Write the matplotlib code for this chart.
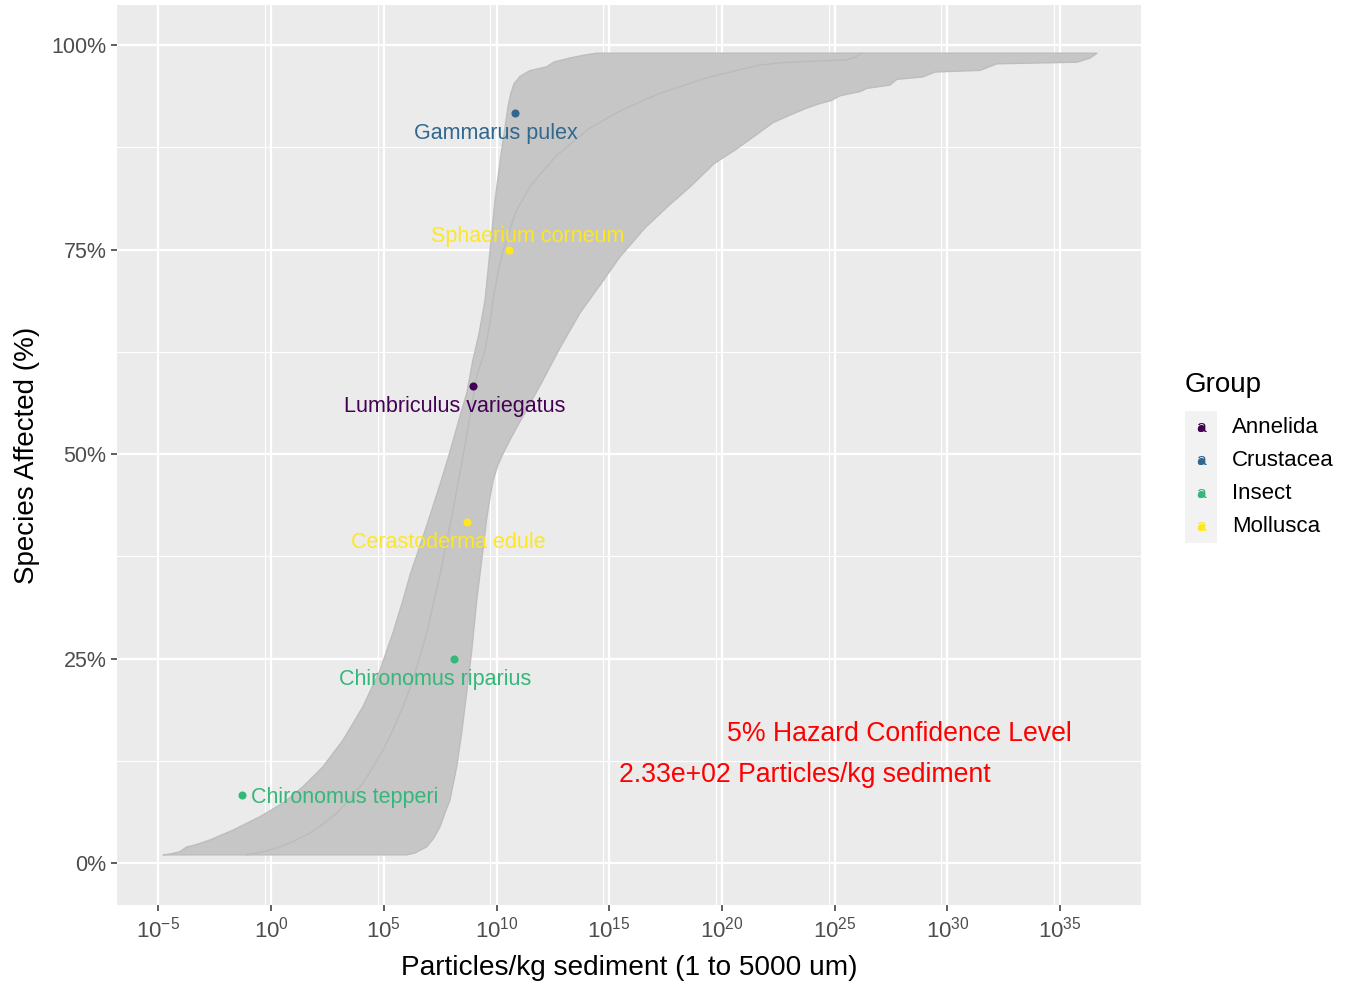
import matplotlib
matplotlib.use("Agg")
import matplotlib.pyplot as plt
import numpy as np

plt.rcParams['font.family'] = ['Liberation Sans', 'DejaVu Sans']
plt.rcParams['mathtext.default'] = 'regular'
plt.rcParams['axes.unicode_minus'] = False

# ---------------- data ----------------
species = ["Chironomus tepperi", "Chironomus riparius", "Cerastoderma edule",
           "Lumbriculus variegatus", "Sphaerium corneum", "Gammarus pulex"]
groups = ["Insect", "Insect", "Mollusca", "Annelida", "Mollusca", "Crustacea"]
conc = [5.0e-2, 1.26e8, 4.9e8, 8.7e8, 3.5e10, 6.8e10]
frac_affected = [0.083, 0.25, 0.417, 0.583, 0.75, 0.917]

group_names = ["Annelida", "Crustacea", "Insect", "Mollusca"]
group_colors = ["#440154", "#31688E", "#35B779", "#FDE725"]

# confidence band, lower boundary (log10 concentration, fraction affected)
lower_log10 = [-4.79, 6.01, 6.38, 6.90, 7.22, 7.49, 7.71, 7.93, 8.23, 8.45, 8.67, 8.90,
               9.12, 9.34, 9.56, 9.71, 9.85, 10.06, 10.30, 10.64, 11.04, 11.93, 12.81,
               13.70, 14.59, 15.47, 16.58, 17.65, 18.58, 19.65, 20.58, 21.46, 22.26,
               23.02, 23.77, 24.35, 24.84, 25.24, 26.12, 26.43, 27.45, 27.76, 28.92,
               29.45, 31.45, 32.20, 35.75, 36.33, 36.64]
lower_frac = [0.01, 0.01, 0.0122, 0.0199, 0.0306, 0.0444, 0.0611, 0.0770, 0.1177, 0.1589,
              0.2078, 0.2604, 0.3215, 0.3704, 0.4205, 0.4474, 0.4682, 0.4866, 0.5012,
              0.5196, 0.5397, 0.5837, 0.6296, 0.6724, 0.7066, 0.7408, 0.7763, 0.804,
              0.8264, 0.855, 0.8716, 0.889, 0.905, 0.9144, 0.923, 0.9285, 0.932, 0.938,
              0.943, 0.947, 0.951, 0.958, 0.961, 0.967, 0.969, 0.977, 0.979, 0.984, 0.99]
# confidence band, upper boundary
upper_log10 = [-4.79, -4.49, -4.05, -3.75, -3.38, -2.72, -1.69, -0.50, 0.52, 1.41, 2.30,
               3.19, 4.07, 4.83, 5.40, 5.85, 6.16, 6.51, 6.91, 7.27, 7.58, 7.89, 8.29,
               8.69, 8.95, 9.22, 9.49, 9.71, 9.93, 10.15, 10.37, 10.52, 10.64, 10.77,
               11.04, 11.48, 12.22, 12.55, 13.26, 13.92, 14.45, 36.64]
upper_frac = [0.01, 0.011, 0.0138, 0.0196, 0.022, 0.0281, 0.0403, 0.0566, 0.0733, 0.0933,
              0.1177, 0.1504, 0.1911, 0.2359, 0.2812, 0.3215, 0.3521, 0.3802, 0.4132,
              0.4438, 0.4707, 0.4988, 0.5379, 0.5758, 0.6149, 0.6467, 0.6883, 0.7488,
              0.8097, 0.8564, 0.8985, 0.9267, 0.9413, 0.9523, 0.9616, 0.9687, 0.9733,
              0.9792, 0.9841, 0.9878, 0.99, 0.99]
# fitted distribution curve
fit_log10 = [-1.09, -0.50, 0.24, 0.97, 1.72, 2.30, 2.91, 3.50, 4.07, 4.52, 4.96, 5.40,
             5.85, 6.16, 6.46, 6.90, 7.18, 7.49, 7.80, 8.07, 8.33, 8.60, 8.86, 9.13, 9.49,
             9.71, 9.88, 10.15, 10.46, 10.86, 11.53, 12.64, 14.14, 15.47, 16.36, 17.25,
             18.14, 19.33, 20.67, 21.69, 22.71, 25.55, 25.90, 26.21]
fit_frac = [0.01, 0.0128, 0.0183, 0.0263, 0.0367, 0.0477, 0.0611, 0.0782, 0.0978, 0.1174,
            0.138, 0.1626, 0.191, 0.2139, 0.2396, 0.2812, 0.3154, 0.352, 0.3949, 0.4315,
            0.4707, 0.511, 0.5538, 0.5966, 0.627, 0.6614, 0.6944, 0.7335, 0.764, 0.797,
            0.8289, 0.8643, 0.8985, 0.9193, 0.9303, 0.941, 0.949, 0.960, 0.969, 0.9756,
            0.9786, 0.982, 0.985, 0.99]

x_tick_exps = [-5, 0, 5, 10, 15, 20, 25, 30, 35]
y_ticks = [0.0, 0.25, 0.5, 0.75, 1.0]
y_ticklabels = ["0%", "25%", "50%", "75%", "100%"]

hc_line1 = "5% Hazard Confidence Level"
hc_line2 = "2.33e+02 Particles/kg sediment"

# ---------------- figure ----------------
W, H = 1353, 983
fig = plt.figure(figsize=(W / 100, H / 100), dpi=100)
ax = fig.add_axes([117 / W, 1 - 905 / H, (1141 - 117) / W, 900 / H])
ax.set_facecolor("#EBEBEB")
ax.set_xscale("log")
ax.set_xlim(10 ** -6.84, 10 ** 38.59)
ax.set_ylim(-0.0513, 1.0489)
for s in ax.spines.values():
    s.set_visible(False)

# grid
for e in x_tick_exps:
    ax.axvline(10.0 ** e, color="white", lw=1.6, zorder=0.5)
for e in x_tick_exps[1:]:
    ax.axvline(10.0 ** (e - 0.27), color="white", lw=0.8, zorder=0.5)
for yv in y_ticks:
    ax.axhline(yv, color="white", lw=1.6, zorder=0.5)
for yv in [0.125, 0.375, 0.625, 0.875]:
    ax.axhline(yv, color="white", lw=0.8, zorder=0.5)

# band
bx = [10.0 ** v for v in lower_log10] + [10.0 ** v for v in upper_log10[::-1]]
by = list(lower_frac) + list(upper_frac[::-1])
ax.fill(bx, by, facecolor="#C6C6C6", edgecolor="#BDBDBD", lw=1.0, zorder=1,
        joinstyle="round")
ax.plot([10.0 ** v for v in fit_log10], fit_frac, color="#BBBBBB", lw=1.0, zorder=1.5,
        solid_joinstyle="round")

# points and labels
cmap = dict(zip(group_names, group_colors))
label_offsets = [(9, -2), (-18.5, -21), (-19, -21), (-18, -20), (18.5, 13), (-19, -21)]
label_ha = ["left", "center", "center", "center", "center", "center"]
for sp, g, c, f, off, ha in zip(species, groups, conc, frac_affected, label_offsets, label_ha):
    ax.scatter([c], [f], s=34, color=cmap[g], zorder=3, linewidths=0)
    ax.annotate(sp, (c, f), xytext=(off[0] * 0.72, off[1] * 0.72), textcoords="offset points",
                ha=ha, va="center", color=cmap[g], fontsize=15.5, zorder=4)

ax.text(10 ** 27.87, 0.1576, hc_line1, color="red", fontsize=19.2, ha="center", va="center")
ax.text(10 ** 23.66, 0.1076, hc_line2, color="red", fontsize=19.2, ha="center", va="center")

# ticks
ax.set_xticks([10.0 ** e for e in x_tick_exps])
ax.set_xticklabels([r"$10^{%d}$" % e for e in x_tick_exps])
ax.xaxis.set_minor_locator(matplotlib.ticker.NullLocator())
ax.set_yticks(y_ticks)
ax.set_yticklabels(y_ticklabels)
ax.tick_params(axis="both", colors="#333333", length=4.5, width=1.1, labelsize=15.5,
               labelcolor="#4D4D4D", pad=3)
ax.tick_params(axis="x", labelsize=16, pad=4)

ax.set_xlabel("Particles/kg sediment (1 to 5000 um)", fontsize=20.2, color="black", labelpad=8.5)
ax.set_ylabel("Species Affected (%)", fontsize=20, color="black", labelpad=8)

# legend (manual)
fig.text(1185 / W, 1 - 385 / H, "Group", fontsize=20, ha="left", va="center")
lax = fig.add_axes([1185 / W, 1 - 543 / H, 32 / W, 132 / H])
lax.set_facecolor("#F2F2F2")
lax.set_xlim(0, 1)
lax.set_ylim(0, 4)
lax.set_xticks([])
lax.set_yticks([])
for s in lax.spines.values():
    s.set_visible(False)
for i, (gname, gc) in enumerate(zip(group_names, group_colors)):
    yc = 3.5 - i
    lax.scatter([0.5], [yc], s=26, color=gc, linewidths=0, zorder=2)
    lax.text(0.5, yc, "a", color=gc, fontsize=12.5, ha="center", va="center", zorder=3)
    fig.text(1232 / W, 1 - (427.5 + 33 * i) / H, gname, fontsize=16, ha="left", va="center")

fig.savefig("out.png", dpi=100)
